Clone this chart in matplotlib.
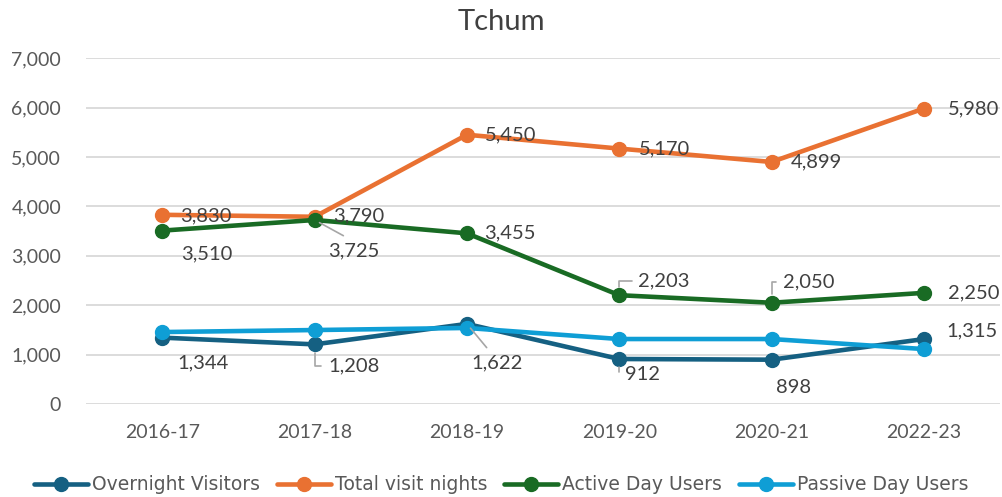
import matplotlib
matplotlib.use("Agg")
import matplotlib.pyplot as plt
from matplotlib.ticker import FuncFormatter

years = ["2016-17", "2017-18", "2018-19", "2019-20", "2020-21", "2022-23"]
overnight = [1344, 1208, 1622, 912, 898, 1315]
total_nights = [3830, 3790, 5450, 5170, 4899, 5980]
active_day = [3510, 3725, 3455, 2203, 2050, 2250]
passive_day = [1457, 1498, 1540, 1316, 1316, 1113]

series = [
    ("Overnight Visitors", overnight, "#156082"),
    ("Total visit nights", total_nights, "#E97132"),
    ("Active Day Users", active_day, "#196B24"),
    ("Passive Day Users", passive_day, "#0F9ED5"),
]

# label offsets in pixels (dx, dy), and leader style
overnight_lbl = [(41, -25, None), (39, -22, "angle"), (30, -39, "line"),
                 (23, -16, "angle"), (22, -28, None), (48, 8, None)]
total_lbl = [(44, -1, None), (44, 1, None), (44, 0, None),
             (45, 0, None), (45, 0, None), (50, 0, None)]
active_lbl = [(44, -23, None), (39, -31, "line"), (43, 0, None),
              (45, 14, "angle"), (37, 21, "angle"), (50, 0, None)]

plt.rcParams["font.family"] = ["Lato", "DejaVu Sans"]
fig = plt.figure(figsize=(10.02, 4.97), dpi=100)
ax = fig.add_axes([0.086, 0.187, 0.912, 0.696])

x = list(range(len(years)))
for name, vals, col in series:
    ax.plot(x, vals, color=col, lw=3.3, marker="o", ms=10, label=name,
            solid_capstyle="round", zorder=3)

def put_labels(vals, offs):
    for i, (v, (dx, dy, lead)) in enumerate(zip(vals, offs)):
        kw = {}
        if lead == "angle":
            kw["arrowprops"] = dict(arrowstyle="-", color="#a6a6a6", lw=1.2,
                                    connectionstyle="angle,angleA=0,angleB=90,rad=0",
                                    relpos=(0, 0.5), shrinkA=3, shrinkB=6)
        elif lead == "line":
            kw["arrowprops"] = dict(arrowstyle="-", color="#a6a6a6", lw=1.2,
                                    relpos=(0.3, 1.4), shrinkA=0, shrinkB=4)
        ax.annotate(f"{v:,}", (i, v), xytext=(dx, dy), textcoords="offset pixels",
                    ha="center", va="center", fontsize=14.5, color="#404040",
                    zorder=4, **kw)

put_labels(overnight, overnight_lbl)
put_labels(total_nights, total_lbl)
put_labels(active_day, active_lbl)

ax.set_xlim(-0.5, len(years) - 0.5)
ax.set_ylim(0, 7000)
ax.set_yticks(range(0, 7001, 1000))
ax.yaxis.set_major_formatter(FuncFormatter(lambda v, p: f"{int(v):,}"))
ax.set_xticks(x)
ax.set_xticklabels(years)
ax.tick_params(length=0, labelsize=14, colors="#595959")
ax.tick_params(axis="y", pad=18)
ax.tick_params(axis="x", pad=14)
ax.grid(axis="y", color="#d9d9d9", lw=1.3)
ax.set_axisbelow(True)
for s in ax.spines.values():
    s.set_visible(False)

fig.text(0.5, 0.955, "Tchum", ha="center", va="center", fontsize=21, color="#404040")

leg = fig.legend(loc="center", bbox_to_anchor=(0.5, 0.025), ncol=4, frameon=False,
                 handlelength=2.9, handletextpad=0.2, columnspacing=0.9,
                 prop={"family": ["DejaVu Sans"], "size": 13.5})
for t in leg.get_texts():
    t.set_color("#595959")

fig.savefig("out.png", dpi=100)
